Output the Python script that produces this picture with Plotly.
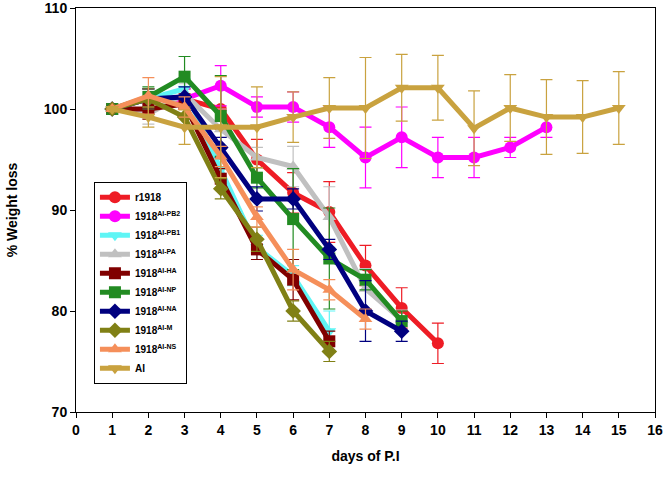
import plotly.graph_objects as go

# ---- data ----
names = ["r1918", "1918<sup>AI-PB2</sup>", "1918<sup>AI-PB1</sup>", "1918<sup>AI-PA</sup>",
         "1918<sup>AI-HA</sup>", "1918<sup>AI-NP</sup>", "1918<sup>AI-NA</sup>",
         "1918<sup>AI-M</sup>", "1918<sup>AI-NS</sup>", "AI"]

r1918_y = [100, 101, 101, 100, 95, 91.7, 89.8, 84.5, 80.3, 76.8]
r1918_e = [0, 1, 1, 2, 2, 2, 3, 2, 2, 2]
pb2_y = [100, 101, 101, 102.3, 100.2, 100.2, 98.2, 95.2, 97.2, 95.2, 95.2, 96.2, 98.2]
pb2_e = [0, 1, 1, 2, 1, 1.5, 2, 3, 3, 2, 2, 1, 1]
pb1_y = [100, 101, 102, 94, 86.3, 83.5, 78]
pb1_e = [0, 1, 1, 1, 1.2, 1, 2]
pa_y = [100, 99.5, 101.5, 98, 95.2, 94.3, 89.3, 82.2, 79.1]
pa_e = [0, 1, 1, 2, 1, 2, 3, 2, 1]
ha_y = [100, 100, 100.5, 93.1, 86.1, 83.1, 77]
ha_e = [0, 1, 1, 1, 1, 2, 1]
np_y = [100, 101.2, 103.2, 99.3, 93.2, 89.1, 85.2, 83.1, 79]
np_e = [0, 1, 2, 4, 1, 5, 5, 1, 1]
na_y = [100, 101, 101.2, 96.2, 91.1, 91.1, 86.1, 80, 78]
na_e = [0, 1, 1, 1, 1.2, 1, 1, 3, 1]
m_y = [100, 101, 99.2, 92.1, 87.1, 80, 76]
m_e = [0, 1, 1, 1, 1.2, 1, 1]
ns_y = [100, 101.3, 100.2, 95.3, 89.3, 84.1, 82.1, 79.2]
ns_e = [0, 1.8, 1, 1, 1, 2, 1, 1]
ai_y = [100, 99.2, 98.2, 98.2, 98.2, 99.2, 100.1, 100.1, 102.1, 102.1, 98.1, 100.1, 99.2, 99.2, 100.1]
ai_e = [0, 1, 1.7, 5, 4, 2.5, 3, 5, 3.3, 3.2, 3.7, 3.3, 3.7, 3.6, 3.6]

series_y = [r1918_y, pb2_y, pb1_y, pa_y, ha_y, np_y, na_y, m_y, ns_y, ai_y]
series_e = [r1918_e, pb2_e, pb1_e, pa_e, ha_e, np_e, na_e, m_e, ns_e, ai_e]

colors = ["#ee1c25", "#ff00ff", "#5ff5f5", "#c0c0c0", "#800000",
          "#228b22", "#00007f", "#808015", "#f58f5a", "#c9a23f"]
symbols = ["circle", "circle", "triangle-down", "triangle-up", "square",
           "square", "diamond", "diamond", "triangle-up", "triangle-down"]

x_ticks = list(range(0, 17))
y_ticks = [70, 80, 90, 100, 110]

fig = go.Figure()
for name, ys, es, c, s in zip(names, series_y, series_e, colors, symbols):
    days = list(range(1, len(ys) + 1))
    fig.add_trace(go.Scatter(
        x=days, y=ys, name=name, mode="lines+markers",
        line=dict(color=c, width=5),
        marker=dict(color=c, symbol=s, size=12),
        error_y=dict(type="data", array=es, visible=True, color=c,
                     thickness=1.2, width=6),
    ))

font_family = "Liberation Sans, Arial, sans-serif"
fig.update_layout(
    width=666, height=480,
    margin=dict(l=76, r=11, t=8, b=68),
    paper_bgcolor="white", plot_bgcolor="white",
    font=dict(family=font_family, color="black"),
    showlegend=True,
    legend=dict(
        x=0.031, y=0.57, xanchor="left", yanchor="top",
        bordercolor="black", borderwidth=1, bgcolor="white",
        font=dict(size=10, family=font_family, weight="bold"),
        itemwidth=30, tracegroupgap=0,
    ),
    xaxis=dict(
        range=[0, 16], tickmode="array", tickvals=x_ticks,
        ticks="outside", ticklen=5, tickwidth=1, tickcolor="black",
        showline=True, linecolor="black", linewidth=1, mirror=True,
        showgrid=False, zeroline=False, automargin=False,
        ticklabeloverflow="allow",
        tickfont=dict(size=14, weight="bold"),
        title=dict(text="days of P.I", font=dict(size=14, weight="bold"), standoff=14),
    ),
    yaxis=dict(
        range=[70, 110], tickmode="array", tickvals=y_ticks,
        ticks="outside", ticklen=5, tickwidth=1, tickcolor="black",
        showline=True, linecolor="black", linewidth=1, mirror=True,
        showgrid=False, zeroline=False, automargin=False,
        ticklabeloverflow="allow",
        tickfont=dict(size=14, weight="bold"),
        title=dict(text="% Weight loss", font=dict(size=14, weight="bold"), standoff=22),
    ),
)

fig.write_html("out.html",
               config={"displayModeBar": False},
               post_script="document.body.style.margin='0';document.body.style.overflow='hidden';")
